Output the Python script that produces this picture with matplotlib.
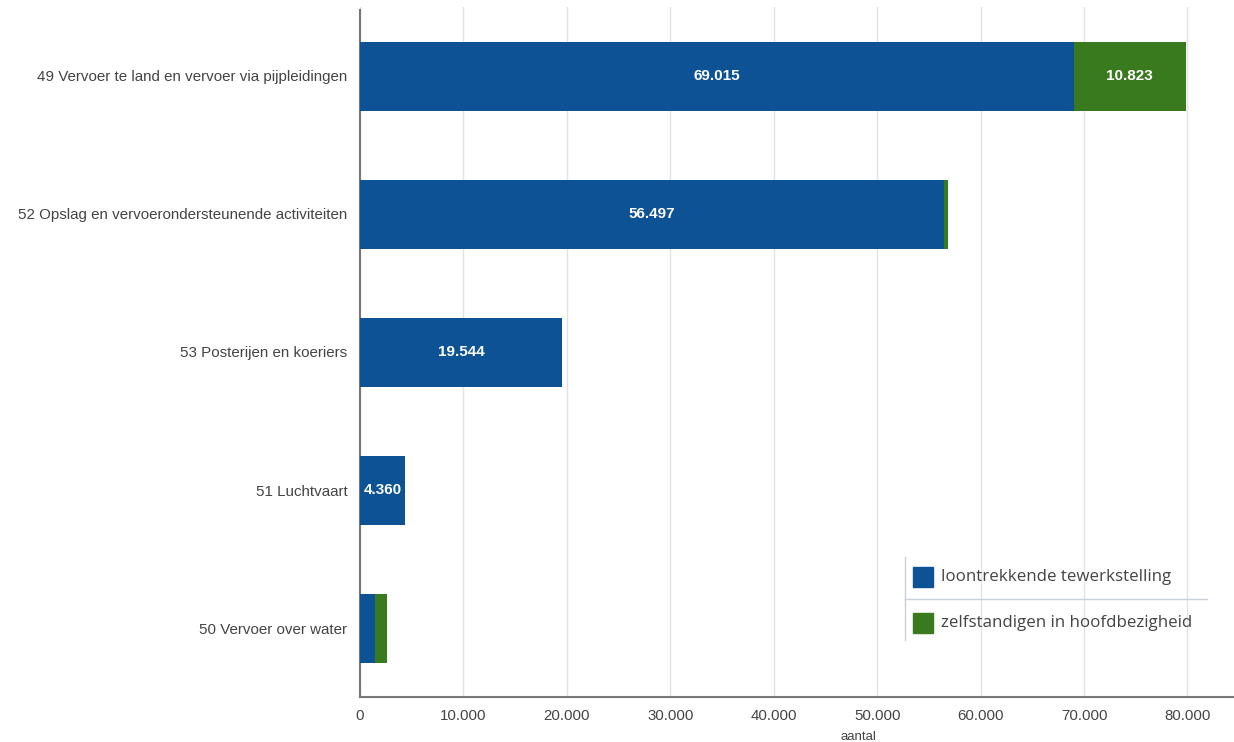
import matplotlib.pyplot as plt
from matplotlib.patches import Rectangle
from matplotlib.lines import Line2D

categories = [
    "49 Vervoer te land en vervoer via pijpleidingen",
    "52 Opslag en vervoerondersteunende activiteiten",
    "53 Posterijen en koeriers",
    "51 Luchtvaart",
    "50 Vervoer over water",
]
loontrekkend = [69015, 56497, 19544, 4360, 1450]
zelfstandig = [10823, 400, 0, 0, 1150]
series_names = ["loontrekkende tewerkstelling", "zelfstandigen in hoofdbezigheid"]
xticks = [0, 10000, 20000, 30000, 40000, 50000, 60000, 70000, 80000]

blue = "#0c5294"
green = "#3a7a1f"


def fmt(v):
    return f"{v:,.0f}".replace(",", ".")


W, H = 1234, 742
fig = plt.figure(figsize=(12.34, 7.42), dpi=100)
ax = fig.add_axes([360 / W, 45 / H, 874 / W, 690 / H])

y = list(range(len(categories)))
ax.barh(y, loontrekkend, height=0.5, color=blue, zorder=3)
ax.barh(y, zelfstandig, left=loontrekkend, height=0.5, color=green, zorder=3)

for i in y:
    if loontrekkend[i] > 4000:
        ax.text(loontrekkend[i] / 2, i, fmt(loontrekkend[i]), ha="center", va="center",
                color="white", fontweight="bold", fontsize=11, family="Liberation Sans", zorder=4)
    if zelfstandig[i] > 4000:
        ax.text(loontrekkend[i] + zelfstandig[i] / 2, i, fmt(zelfstandig[i]), ha="center",
                va="center", color="white", fontweight="bold", fontsize=11,
                family="Liberation Sans", zorder=4)

ax.set_ylim(len(categories) - 0.5, -0.5)
ax.set_xlim(0, 84500)
ax.set_yticks(y)
ax.set_yticklabels(categories, fontsize=10.9, color="#444444", family="Liberation Sans")
ax.set_xticks(xticks)
ax.set_xticklabels([fmt(v) for v in xticks], fontsize=10.8, color="#444444", family="Liberation Sans")
ax.tick_params(axis="both", length=0, pad=9)
ax.tick_params(axis="y", pad=9)
ax.grid(axis="x", color="#e3e3e3", linewidth=1, zorder=0)
ax.set_xlabel("aantal", fontsize=9.5, color="#444444", family="Liberation Sans")
ax.xaxis.set_label_coords(0.57, -0.049)

for s in ["top", "right"]:
    ax.spines[s].set_visible(False)
ax.spines["left"].set_color("#777777")
ax.spines["bottom"].set_color("#777777")
ax.spines["left"].set_linewidth(1.5)
ax.spines["bottom"].set_linewidth(1.5)
ax.spines["left"].set_bounds(len(categories) - 0.5, -0.48)

# legend
lx0, ly_top, ly_bot, lx1 = 905, 557, 640, 1207
fig.add_artist(Line2D([lx0 / W, lx0 / W], [1 - ly_top / H, 1 - ly_bot / H], color="#c8d0dc", lw=1))
fig.add_artist(Line2D([lx0 / W, lx1 / W], [1 - 599 / H, 1 - 599 / H], color="#c8d0dc", lw=1))
for name, col, yc in zip(series_names, [blue, green], [577, 623]):
    fig.add_artist(Rectangle((913 / W, 1 - (yc + 10) / H), 20 / W, 20 / H, color=col,
                             transform=fig.transFigure))
    fig.text(941 / W, 1 - yc / H, name, ha="left", va="center", fontsize=12.2,
             color="#444444", family="Open Sans")

fig.savefig("out.png", dpi=100)
